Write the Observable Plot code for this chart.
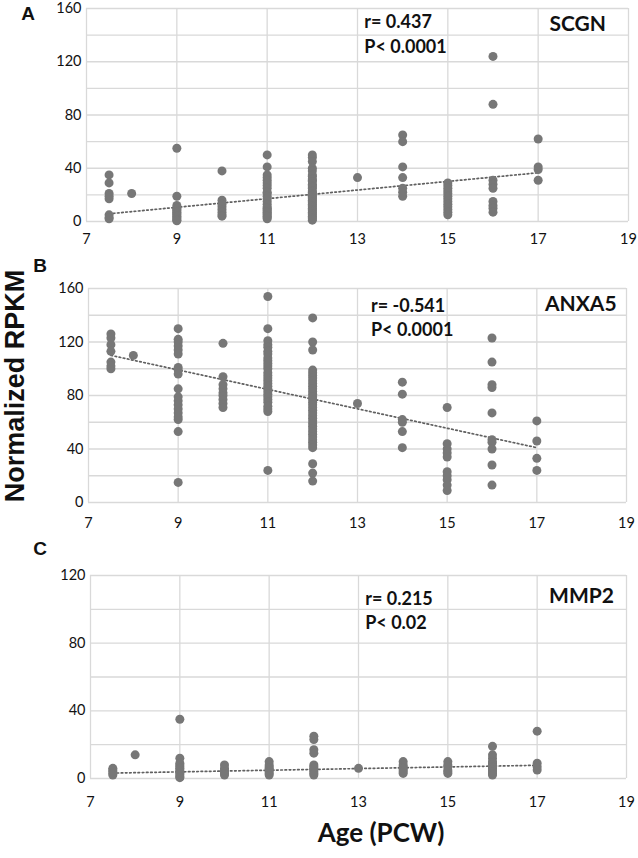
<!DOCTYPE html>
<html>
<head>
<meta charset="utf-8">
<script src="https://cdn.jsdelivr.net/npm/d3@7"></script>
<script src="https://cdn.jsdelivr.net/npm/@observablehq/plot@0.6"></script>
<style>
  html, body { margin: 0; padding: 0; background: #fff; }
  #wrap { position: relative; width: 638px; height: 858px; overflow: hidden; background: #fff; }
  #wrap svg { position: absolute; left: 0; }
  .lbl { position: absolute; font-family: "Liberation Sans", Arial, sans-serif; font-weight: bold; color: #111; white-space: nowrap; }
  .xt { position: absolute; font-family: Lato, "Open Sans", sans-serif; font-weight: bold; color: #111; white-space: nowrap; }
</style>
</head>
<body>
<div id="wrap"></div>
<script>
// ---- data ----
const ages = [7.5, 8, 9, 10, 11, 12, 13, 14, 15, 16, 17];

const scgn = [
  [35, 29, 21, 19, 17, 5, 3, 2],
  [21],
  [55, 19, 12, 10, 9, 8, 7, 6, 5, 4, 3, 2, 1, 0.5],
  [38, 16, 13, 11, 9, 7, 5, 4],
  [50, 41, 35, 33, 31, 29, 27, 25, 22, 21, 19, 17, 15, 13, 11, 10, 9, 8, 7, 6, 5, 4, 3, 2],
  [50, 48, 45, 40, 38, 35, 34, 32, 31, 30, 28, 27, 26, 25, 23, 22, 21, 20, 19, 18, 17, 16, 15, 14, 13, 12, 11, 10, 9, 8, 7, 6, 5, 4, 3, 2, 1],
  [33],
  [65, 60, 41, 33, 25, 22, 19],
  [29, 27, 25, 23, 21, 19, 17, 15, 13, 11, 9, 7, 5],
  [124, 88, 31, 28, 25, 15, 12, 10, 7],
  [62, 41, 39, 31]
];

const anxa5 = [
  [126, 123, 118, 113, 105, 102, 100],
  [110],
  [130, 122, 120, 117, 114, 111, 101, 99, 96, 85, 79, 76, 73, 70, 67, 64, 62, 53, 15],
  [119, 94, 88, 85, 82, 80, 77, 74, 71],
  [154, 130, 121, 118, 116, 113, 111, 108, 106, 104, 102, 100, 97, 95, 93, 91, 89, 87, 85, 83, 81, 79, 77, 75, 72, 70, 68, 24],
  [138, 120, 114, 99, 97, 95, 93, 91, 89, 87, 85, 83, 81, 79, 77, 75, 73, 71, 69, 67, 65, 63, 61, 59, 57, 55, 53, 51, 49, 47, 45, 43, 41, 29, 22, 16],
  [74],
  [90, 81, 62, 60, 53, 41],
  [71, 44, 40, 37, 34, 23, 20, 17, 13, 9],
  [123, 105, 88, 86, 67, 47, 45, 40, 28, 13],
  [61, 46, 33, 24]
];

const mmp2 = [
  [6, 5, 4, 3, 2],
  [14],
  [35, 12, 9, 8, 7, 6, 5, 4, 3, 2, 1, 0.5],
  [8, 6, 5, 4, 3, 2],
  [10, 8, 7, 6, 5, 4, 3, 2],
  [25, 23, 17, 15, 8, 7, 6, 5, 4, 3, 2],
  [6],
  [10, 8, 7, 6, 5, 4, 3],
  [10, 8, 7, 5, 4, 3],
  [19, 14, 12, 10, 9, 8, 7, 6, 5, 4, 3, 2],
  [28, 9, 7, 5]
];

// dotted trend lines (end points)
const trendAges = [7.5, 17];
const trendSCGN = [5.8, 36.6];
const trendANXA5 = [110, 41];
const trendMMP2 = [3.2, 7.8];

// ticks
const xTicks = [7, 9, 11, 13, 15, 17, 19];
const yTicksAB = [0, 40, 80, 120, 160];
const yGridAB = [0, 20, 40, 60, 80, 100, 120, 140, 160];
const yTicksC = [0, 40, 80, 120];
const yGridC = [0, 20, 40, 60, 80, 100, 120];

const genes = ["SCGN", "ANXA5", "MMP2"];
const rTexts = ["r= 0.437", "r= -0.541", "r= 0.215"];
const pTexts = ["P< 0.0001", "P< 0.0001", "P< 0.02"];

// ---- helpers ----
function flat(vals) {
  const out = [];
  vals.forEach((arr, i) => arr.forEach(v => out.push({age: ages[i], v})));
  return out;
}
function trend(vals) {
  return trendAges.map((a, i) => ({age: a, v: vals[i]}));
}

const FONT = "Lato, 'Open Sans', sans-serif";

function panel(o) {
  const pts = flat(o.values);
  const chart = Plot.plot({
    width: 638,
    height: o.mt + o.plotH + o.mb,
    marginTop: o.mt, marginBottom: o.mb, marginLeft: o.ml, marginRight: o.mr,
    x: {domain: [7, 19]},
    y: {domain: [0, o.yMax]},
    style: {fontFamily: FONT, fontSize: "14px", color: "#111", background: "transparent", overflow: "visible"},
    marks: [
      Plot.gridY(o.yGrid, {stroke: "#d9d9d9", strokeOpacity: 1, strokeWidth: 1.3}),
      Plot.gridX(xTicks, {stroke: "#d9d9d9", strokeOpacity: 1, strokeWidth: 1.3}),
      Plot.axisY(o.yTicks, {tickSize: 0, tickPadding: 5, label: null, fontSize: 14.5, fill: "#111"}),
      Plot.axisX(xTicks, {tickSize: 0, tickPadding: o.xPad, label: null, fontSize: 14.5, fill: "#111"}),
      Plot.line(trend(o.trend), {x: "age", y: "v", stroke: "#606060", strokeWidth: 1.7, strokeDasharray: "1.6 2.6"}),
      Plot.dot(pts, {x: "age", y: "v", r: 4.5, fill: "#777777", stroke: "none"}),
      Plot.text([o.rText], {x: o.noteX, y: o.rY, text: d => d, textAnchor: "start", fontWeight: "bold", fontSize: 18, fill: "#111"}),
      Plot.text([o.pText], {x: o.noteX, y: o.pY, text: d => d, textAnchor: "start", fontWeight: "bold", fontSize: 18, fill: "#111"}),
      Plot.text([o.gene], {x: o.geneX, y: o.geneY, text: d => d, textAnchor: "end", fontWeight: "bold", fontSize: 21, fill: "#111"})
    ]
  });
  chart.style.top = o.top + "px";
  document.getElementById("wrap").appendChild(chart);
}

panel({values: scgn, trend: trendSCGN, yMax: 160, yTicks: yTicksAB, yGrid: yGridAB,
  top: 0, mt: 8, plotH: 213, mb: 32, ml: 86, mr: 10, xPad: 12,
  rText: rTexts[0], pText: pTexts[0], gene: genes[0],
  noteX: 13.15, rY: 150, pY: 131, geneX: 18.5, geneY: 148});

panel({values: anxa5, trend: trendANXA5, yMax: 160, yTicks: yTicksAB, yGrid: yGridAB,
  top: 260, mt: 28, plotH: 214, mb: 32, ml: 88, mr: 12, xPad: 15,
  rText: rTexts[1], pText: pTexts[1], gene: genes[1],
  noteX: 13.3, rY: 147, pY: 128.5, geneX: 18.78, geneY: 148.5});

panel({values: mmp2, trend: trendMMP2, yMax: 120, yTicks: yTicksC, yGrid: yGridC,
  top: 545, mt: 30, plotH: 203, mb: 36, ml: 90, mr: 12, xPad: 18,
  rText: rTexts[2], pText: pTexts[2], gene: genes[2],
  noteX: 13.15, rY: 106, pY: 91.5, geneX: 18.72, geneY: 108});

// ---- page text ----
const wrap = document.getElementById("wrap");
function addText(cls, txt, cx, cy, size, rot) {
  const d = document.createElement("div");
  d.className = cls;
  d.textContent = txt;
  d.style.fontSize = size + "px";
  d.style.left = cx + "px";
  d.style.top = cy + "px";
  d.style.lineHeight = "1";
  d.style.transform = "translate(-50%, -50%)" + (rot ? " rotate(-90deg)" : "");
  wrap.appendChild(d);
}
addText("lbl", "A", 28, 13, 19);
addText("lbl", "B", 40, 265, 19);
addText("lbl", "C", 40, 548, 19);
addText("lbl", "Normalized RPKM", 15, 386, 27, true);
addText("xt", "Age (PCW)", 381, 832, 26);
</script>
</body>
</html>
